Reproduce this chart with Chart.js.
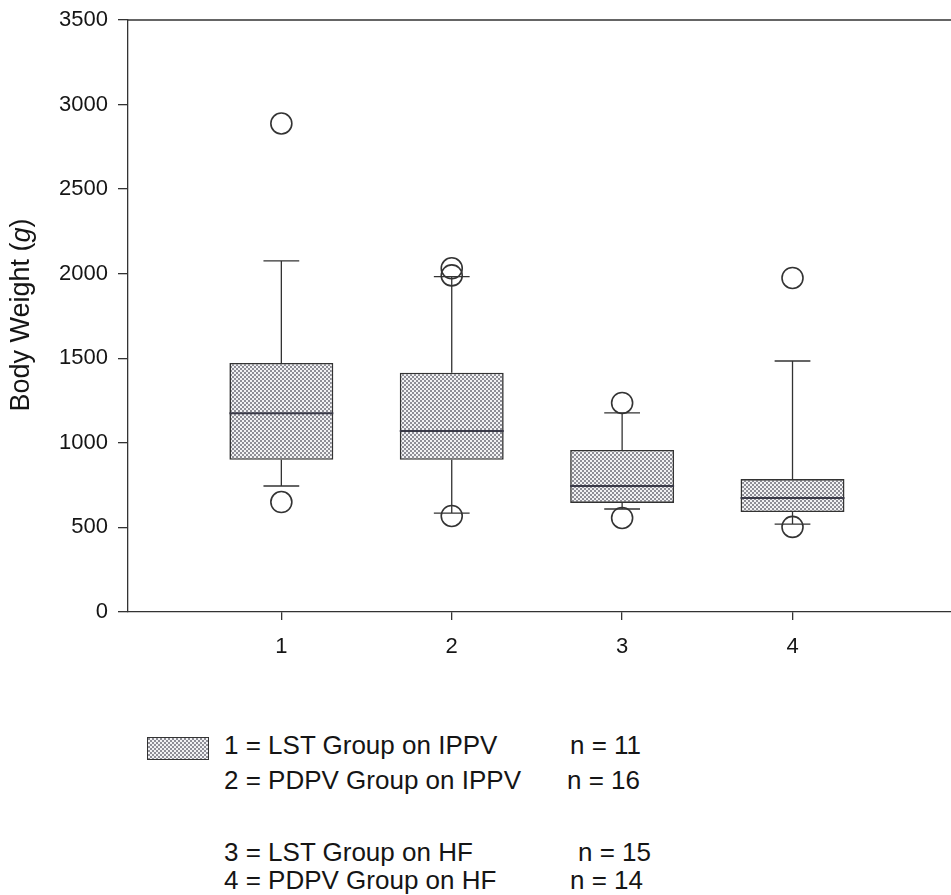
<!DOCTYPE html>
<html>
<head>
<meta charset="utf-8">
<script src="https://cdn.jsdelivr.net/npm/chart.js@4.4.1/dist/chart.umd.min.js"></script>
<style>
  html, body { margin: 0; padding: 0; background: #fff; overflow: hidden; }
  #wrap { position: relative; width: 975px; height: 660px; }
  .legend { position: absolute; left: 0; top: 0; font-family: 'Liberation Sans', Arial, sans-serif; font-size: 26px; line-height: 1; color: #151515; }
  .legend div { position: absolute; white-space: nowrap; }
  .swatch { position: absolute; left: 147px; top: 737px; width: 60px; height: 21px; border: 1.5px solid #333; }
</style>
</head>
<body>
<div id="wrap"><canvas id="chart"></canvas></div>
<canvas class="swatch" id="swatch" width="60" height="21"></canvas>
<div class="legend">
  <div style="left:224px; top:732px">1 = LST Group on IPPV</div>
  <div style="left:570px; top:732px">n = 11</div>
  <div style="left:224px; top:767px">2 = PDPV Group on IPPV</div>
  <div style="left:567px; top:767px">n = 16</div>
  <div style="left:224px; top:839px">3 = LST Group on HF</div>
  <div style="left:578px; top:839px">n = 15</div>
  <div style="left:224px; top:867px">4 = PDPV Group on HF</div>
  <div style="left:570px; top:867px">n = 14</div>
</div>
<script>
// grupos no eixo x
const groups = [1, 2, 3, 4];
// estatísticas das caixas (g)
const q1 = [900, 900, 645, 591];
const median = [1175, 1070, 745, 674];
const q3 = [1472, 1415, 958, 786];
const whiskerLow = [745, 585, 609, 520];
const whiskerHigh = [2076, 1983, 1177, 1484];
// valores extremos (círculos)
const outlierX = [1, 1, 2, 2, 2, 3, 3, 4, 4];
const outlierY = [2888, 650, 2032, 1990, 568, 1236, 556, 1975, 503];
const yTicks = [0, 500, 1000, 1500, 2000, 2500, 3000, 3500];

const FONT = "'Liberation Sans', Arial, sans-serif";
const INK = '#333';

// padrão pontilhado das caixas
function makePattern() {
  const t = document.createElement('canvas');
  t.width = 4; t.height = 4;
  const c = t.getContext('2d');
  c.fillStyle = '#f2f2f4';
  c.fillRect(0, 0, 4, 4);
  c.fillStyle = '#8e8e96';
  c.fillRect(0, 0, 2, 2);
  c.fillRect(2, 2, 2, 2);
  return c.createPattern(t, 'repeat');
}

const sw = document.getElementById('swatch').getContext('2d');
sw.fillStyle = makePattern();
sw.fillRect(0, 0, 60, 21);

// bigodes, mediana e moldura
const boxExtras = {
  id: 'boxExtras',
  afterDatasetsDraw(chart) {
    const { ctx, chartArea, scales: { x, y } } = chart;
    ctx.save();
    ctx.strokeStyle = INK;
    ctx.lineWidth = 1.3;
    ctx.beginPath();
    ctx.moveTo(chartArea.left, chartArea.top);
    ctx.lineTo(chartArea.right, chartArea.top);
    ctx.lineTo(chartArea.right, chartArea.bottom);
    ctx.stroke();
    groups.forEach((g, i) => {
      const cx = x.getPixelForValue(g);
      const half = x.getPixelForValue(g + 0.305) - cx;
      const cap = x.getPixelForValue(g + 0.105) - cx;
      ctx.beginPath();
      ctx.moveTo(cx, y.getPixelForValue(q3[i]));
      ctx.lineTo(cx, y.getPixelForValue(whiskerHigh[i]));
      ctx.moveTo(cx - cap, y.getPixelForValue(whiskerHigh[i]));
      ctx.lineTo(cx + cap, y.getPixelForValue(whiskerHigh[i]));
      ctx.moveTo(cx, y.getPixelForValue(q1[i]));
      ctx.lineTo(cx, y.getPixelForValue(whiskerLow[i]));
      ctx.moveTo(cx - cap, y.getPixelForValue(whiskerLow[i]));
      ctx.lineTo(cx + cap, y.getPixelForValue(whiskerLow[i]));
      ctx.stroke();
      ctx.beginPath();
      ctx.lineWidth = 2;
      ctx.strokeStyle = '#3a3a48';
      ctx.moveTo(cx - half, y.getPixelForValue(median[i]));
      ctx.lineTo(cx + half, y.getPixelForValue(median[i]));
      ctx.stroke();
      ctx.lineWidth = 1.3;
      ctx.strokeStyle = INK;
    });
    ctx.restore();
  }
};

// título do eixo y com "g" em itálico
const yTitle = {
  id: 'yTitle',
  afterDraw(chart) {
    const { ctx, chartArea } = chart;
    const parts = [['Body Weight (', ''], ['g', 'italic '], [')', '']];
    ctx.save();
    ctx.translate(22, (chartArea.top + chartArea.bottom) / 2 - 1);
    ctx.rotate(-Math.PI / 2);
    ctx.fillStyle = '#151515';
    ctx.textBaseline = 'middle';
    const widths = parts.map(([t, s]) => { ctx.font = `${s}27px ${FONT}`; return ctx.measureText(t).width; });
    let px = -widths.reduce((a, b) => a + b, 0) / 2;
    parts.forEach(([t, s], i) => {
      ctx.font = `${s}27px ${FONT}`;
      ctx.fillText(t, px, 0);
      px += widths[i];
    });
    ctx.restore();
  }
};

new Chart(document.getElementById('chart'), {
  type: 'bar',
  data: {
    datasets: [
      {
        label: 'Caixas',
        data: groups.map((g, i) => ({ x: g, y: [q1[i], q3[i]] })),
        backgroundColor: makePattern(),
        borderColor: INK,
        borderWidth: 1.6,
        borderSkipped: false,
        categoryPercentage: 1,
        barPercentage: 0.61,
        order: 2
      },
      {
        type: 'scatter',
        label: 'Extremos',
        data: outlierX.map((g, i) => ({ x: g, y: outlierY[i] })),
        showLine: false,
        pointStyle: 'circle',
        pointRadius: 10.5,
        pointBackgroundColor: 'rgba(0,0,0,0)',
        pointBorderColor: INK,
        pointBorderWidth: 1.6,
        order: 1
      }
    ]
  },
  options: {
    responsive: true,
    maintainAspectRatio: false,
    animation: false,
    layout: { padding: { left: 0, top: 20, right: 4, bottom: 0 } },
    plugins: { legend: { display: false }, tooltip: { enabled: false } },
    scales: {
      x: {
        type: 'linear',
        offset: false,
        min: 0.1,
        max: 5,
        afterBuildTicks(scale) { scale.ticks = groups.map(v => ({ value: v })); },
        afterFit(scale) { scale.height = 48; },
        ticks: { color: '#151515', font: { family: FONT, size: 22 }, padding: 14, maxRotation: 0 },
        grid: { offset: false, drawOnChartArea: false, drawTicks: true, tickLength: 8, color: INK, lineWidth: 1.3 },
        border: { display: true, color: INK, width: 1.3 }
      },
      y: {
        type: 'linear',
        min: 0,
        max: 3500,
        afterBuildTicks(scale) { scale.ticks = yTicks.map(v => ({ value: v })); },
        afterFit(scale) { scale.width = 128; scale.paddingTop = 0; scale.paddingBottom = 0; },
        ticks: { color: '#151515', font: { family: FONT, size: 22 }, padding: 10, callback: v => String(v) },
        grid: { drawOnChartArea: false, drawTicks: true, tickLength: 10, color: INK, lineWidth: 1.3 },
        border: { display: true, color: INK, width: 1.3 }
      }
    }
  },
  plugins: [boxExtras, yTitle]
});
</script>
</body>
</html>
